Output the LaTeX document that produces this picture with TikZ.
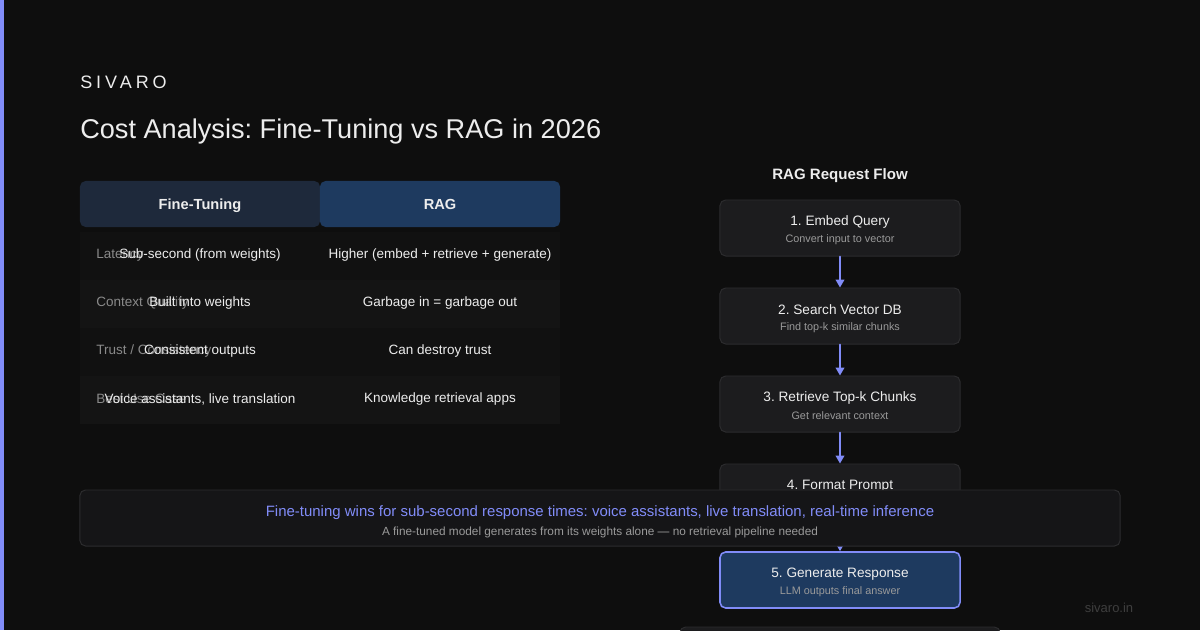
\documentclass[tikz,border=0pt]{standalone}
\usepackage{fontspec}
\setmainfont{Liberation Sans}
\newfontfamily\brandfont[LetterSpace=22]{Liberation Sans}
\usetikzlibrary{arrows.meta}
\usepackage{xcolor}
\definecolor{pagebg}{HTML}{0E0E0E}
\definecolor{accent}{HTML}{818CF8}
\definecolor{inktext}{HTML}{EDEDED}
\definecolor{headft}{HTML}{1E293B}
\definecolor{headrag}{HTML}{1E3A5F}
\definecolor{rowa}{HTML}{111111}
\definecolor{rowb}{HTML}{141414}
\definecolor{labelgray}{HTML}{8A8A8A}
\definecolor{subgray}{HTML}{9A9A9A}
\definecolor{boxfill}{HTML}{1C1C1E}
\definecolor{boxline}{HTML}{2C2C2E}
\definecolor{bannerfill}{HTML}{151517}
\definecolor{footgray}{HTML}{3E3E3E}
\frenchspacing

\begin{document}
\begin{tikzpicture}[x=0.025cm,y=-0.025cm,>={Triangle[length=2mm,width=2.2mm]},line cap=round,
  headcell/.style={fill=#1,rounded corners=4pt,minimum width=6cm,minimum height=1.15cm,
    text=inktext,font=\fontsize{10.4}{12}\selectfont\bfseries},
  rowlabel/.style={anchor=west,inner sep=0pt,text=labelgray,font=\fontsize{9.6}{11}\selectfont},
  cellval/.style={inner sep=0pt,text=inktext,font=\fontsize{9.6}{11}\selectfont},
  flowbox/.style={draw=boxline,fill=boxfill,line width=0.7pt,rounded corners=4pt,
    minimum width=6cm,minimum height=1.4cm},
  flowtitle/.style={inner sep=0pt,text=inktext,font=\fontsize{9.7}{11}\selectfont},
  flowsub/.style={inner sep=0pt,text=subgray,font=\fontsize{7.7}{9}\selectfont},
  flowarrow/.style={->,draw=accent,line width=1.1pt}]
\clip (0,0) rectangle (1200,630);
\fill[pagebg] (0,0) rectangle (1200,630);
\fill[accent] (0,0) rectangle (4,630);

% heading
\node[anchor=west,inner sep=0pt,text=inktext,font=\fontsize{12.8}{14}\brandfont] (brand) at (80,82) {SIVARO};
\node[anchor=west,inner sep=0pt,text=inktext,font=\fontsize{19.3}{22}\selectfont] (title) at (80,131)
  {Cost Analysis: Fine-Tuning vs RAG in 2026};

% comparison table
\node[headcell=headft,text depth=0pt] (hft) at (200,204) {Fine-Tuning};
\node[headcell=headrag,text depth=0pt] (hrag) at (440,204) {RAG};
\fill[rowa] (80,232) rectangle (560,280);
\fill[rowb] (80,280) rectangle (560,328);
\fill[rowa] (80,328) rectangle (560,376);
\fill[rowb] (80,376) rectangle (560,424);

\node[rowlabel] (lat) at (96,255) {Latency};
\node[rowlabel] (ctx) at (96,303) {Context Quality};
\node[rowlabel] (trust) at (96,351) {Trust / Consistency};
\node[rowlabel] (best) at (96,399) {Best Use Case};

\node[cellval] (latft) at (200,255) {Sub-second (from weights)};
\node[cellval] (latrag) at (440,255) {Higher (embed + retrieve + generate)};
\node[cellval] (ctxft) at (200,303) {Built into weights};
\node[cellval] (ctxrag) at (440,303) {Garbage in = garbage out};
\node[cellval] (trustft) at (200,351) {Consistent outputs};
\node[cellval] (trustrag) at (440,351) {Can destroy trust};
\node[cellval] (bestft) at (200,399) {Voice assistants, live translation};
\node[cellval] (bestrag) at (440,399) {Knowledge retrieval apps};

% request flow
\node[inner sep=0pt,text=inktext,font=\fontsize{10.7}{12}\selectfont\bfseries] (flowhead) at (840,176) {RAG Request Flow};

\node[flowbox] (s1) at (840,228) {};
\node[flowtitle] (s1t) at (840,222) {1. Embed Query};
\node[flowsub] (s1s) at (840,240) {Convert input to vector};

\node[flowbox] (s2) at (840,316) {};
\node[flowtitle] (s2t) at (840,310) {2. Search Vector DB};
\node[flowsub] (s2s) at (840,328) {Find top-k similar chunks};

\node[flowbox] (s3) at (840,404) {};
\node[flowtitle] (s3t) at (840,398) {3. Retrieve Top-k Chunks};
\node[flowsub] (s3s) at (840,416) {Get relevant context};

\node[flowbox] (s4) at (840,492) {};
\node[flowtitle] (s4t) at (840,486) {4. Format Prompt};

\node[flowbox,minimum width=8cm] (s6) at (840,655) {};

\draw[flowarrow] (s1.south) -- (s2.north);
\draw[flowarrow] (s2.south) -- (s3.north);
\draw[flowarrow] (s3.south) -- (s4.north);
\draw[flowarrow] (s4.south) -- ([yshift=0.6pt]840,552);

% banner
\node[draw=boxline,fill=bannerfill,line width=0.7pt,rounded corners=4pt,
  minimum width=26cm,minimum height=1.4cm] (banner) at (600,518) {};
\node[inner sep=0pt,text=accent,font=\fontsize{10.65}{12}\selectfont] (bannermain) at (600,513)
  {Fine-tuning wins for sub-second response times: voice assistants, live translation, real-time inference};
\node[inner sep=0pt,text=subgray,font=\fontsize{8.4}{10}\selectfont] (bannersub) at (600,532)
  {A fine-tuned model generates from its weights alone — no retrieval pipeline needed};

\node[flowbox,draw=accent,fill=headrag,line width=1.1pt] (s5) at (840,580) {};
\node[flowtitle] (s5t) at (840,574) {5. Generate Response};
\node[flowsub] (s5s) at (840,592) {LLM outputs final answer};

% footer
\node[inner sep=0pt,text=footgray,font=\fontsize{9.25}{11}\selectfont] (site) at (1109,608) {sivaro.in};
\end{tikzpicture}
\end{document}
